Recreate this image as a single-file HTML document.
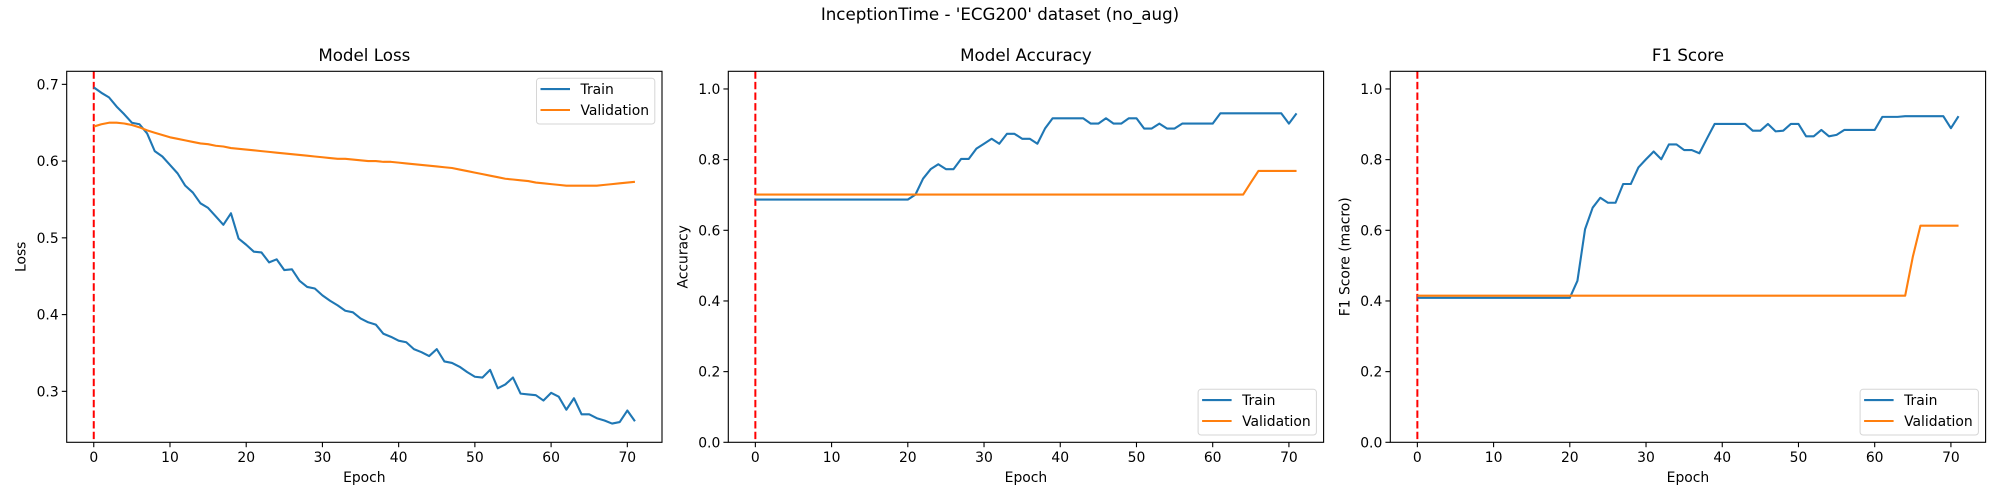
<!DOCTYPE html>
<html><head><meta charset="utf-8"><style>
html,body{margin:0;padding:0;background:#fff;}
svg{display:block;font-family:"DejaVu Sans","Liberation Sans",sans-serif;}
</style></head><body>
<svg id="fig" width="2000" height="500" viewBox="0 0 2000 500" xmlns="http://www.w3.org/2000/svg">
<text x="1000" y="20" text-anchor="middle" font-size="16.7" fill="#000">InceptionTime - 'ECG200' dataset (no_aug)</text>
</svg>
<script>
const epochs = Array.from({length:72},(_,i)=>i);
const lossTrain = [0.696,0.689,0.683,0.671,0.661,0.650,0.648,0.636,0.613,0.606,0.595,0.584,0.568,0.559,0.545,0.539,0.528,0.517,0.532,0.499,0.491,0.482,0.481,0.468,0.472,0.458,0.459,0.444,0.436,0.434,0.425,0.418,0.412,0.405,0.403,0.395,0.390,0.387,0.375,0.371,0.366,0.364,0.355,0.351,0.346,0.355,0.339,0.337,0.332,0.325,0.319,0.318,0.328,0.304,0.309,0.318,0.297,0.296,0.295,0.288,0.298,0.293,0.276,0.291,0.270,0.270,0.265,0.262,0.258,0.260,0.275,0.261];
const lossVal = [0.645,0.648,0.650,0.650,0.649,0.647,0.644,0.640,0.637,0.634,0.631,0.629,0.627,0.625,0.623,0.622,0.620,0.619,0.617,0.616,0.615,0.614,0.613,0.612,0.611,0.610,0.609,0.608,0.607,0.606,0.605,0.604,0.603,0.603,0.602,0.601,0.600,0.600,0.599,0.599,0.598,0.597,0.596,0.595,0.594,0.593,0.592,0.591,0.589,0.587,0.585,0.583,0.581,0.579,0.577,0.576,0.575,0.574,0.572,0.571,0.570,0.569,0.568,0.568,0.568,0.568,0.568,0.569,0.570,0.571,0.572,0.573];
const accTrain = [0.687,0.687,0.687,0.687,0.687,0.687,0.687,0.687,0.687,0.687,0.687,0.687,0.687,0.687,0.687,0.687,0.687,0.687,0.687,0.687,0.687,0.701,0.746,0.773,0.787,0.773,0.773,0.802,0.802,0.831,0.845,0.859,0.845,0.873,0.873,0.859,0.859,0.845,0.888,0.917,0.917,0.917,0.917,0.917,0.902,0.902,0.917,0.902,0.902,0.917,0.917,0.888,0.888,0.902,0.888,0.888,0.902,0.902,0.902,0.902,0.902,0.931,0.931,0.931,0.931,0.931,0.931,0.931,0.931,0.931,0.902,0.931];
const accVal = [0.701,0.701,0.701,0.701,0.701,0.701,0.701,0.701,0.701,0.701,0.701,0.701,0.701,0.701,0.701,0.701,0.701,0.701,0.701,0.701,0.701,0.701,0.701,0.701,0.701,0.701,0.701,0.701,0.701,0.701,0.701,0.701,0.701,0.701,0.701,0.701,0.701,0.701,0.701,0.701,0.701,0.701,0.701,0.701,0.701,0.701,0.701,0.701,0.701,0.701,0.701,0.701,0.701,0.701,0.701,0.701,0.701,0.701,0.701,0.701,0.701,0.701,0.701,0.701,0.701,0.735,0.768,0.768,0.768,0.768,0.768,0.768];
const f1Train = [0.409,0.409,0.409,0.409,0.409,0.409,0.409,0.409,0.409,0.409,0.409,0.409,0.409,0.409,0.409,0.409,0.409,0.409,0.409,0.409,0.409,0.457,0.603,0.664,0.692,0.678,0.678,0.731,0.731,0.778,0.801,0.823,0.801,0.843,0.843,0.827,0.827,0.818,0.860,0.901,0.901,0.901,0.901,0.901,0.882,0.882,0.901,0.880,0.882,0.901,0.901,0.866,0.866,0.884,0.866,0.870,0.884,0.884,0.884,0.884,0.884,0.921,0.921,0.921,0.923,0.923,0.923,0.923,0.923,0.923,0.889,0.923];
const f1Val = [0.415,0.415,0.415,0.415,0.415,0.415,0.415,0.415,0.415,0.415,0.415,0.415,0.415,0.415,0.415,0.415,0.415,0.415,0.415,0.415,0.415,0.415,0.415,0.415,0.415,0.415,0.415,0.415,0.415,0.415,0.415,0.415,0.415,0.415,0.415,0.415,0.415,0.415,0.415,0.415,0.415,0.415,0.415,0.415,0.415,0.415,0.415,0.415,0.415,0.415,0.415,0.415,0.415,0.415,0.415,0.415,0.415,0.415,0.415,0.415,0.415,0.415,0.415,0.415,0.415,0.525,0.613,0.613,0.613,0.613,0.613,0.613];
const xTicks = [0,10,20,30,40,50,60,70];
const lossTicks = ["0.3","0.4","0.5","0.6","0.7"];
const scoreTicks = ["0.0","0.2","0.4","0.6","0.8","1.0"];

const NS="http://www.w3.org/2000/svg";
const svg=document.getElementById('fig');
function mk(tag,attrs,parent){const e=document.createElementNS(NS,tag);for(const k in attrs)e.setAttribute(k,attrs[k]);(parent||svg).appendChild(e);return e;}

const panels=[
 {left:66.7,title:"Model Loss",ylabel:"Loss",ylim:[0.2336,0.717],ticks:lossTicks,train:lossTrain,val:lossVal,legend:"top",key:"loss"},
 {left:728.3,title:"Model Accuracy",ylabel:"Accuracy",ylim:[0,1.05],ticks:scoreTicks,train:accTrain,val:accVal,legend:"bottom",key:"accuracy"},
 {left:1390.3,title:"F1 Score",ylabel:"F1 Score (macro)",ylim:[0,1.05],ticks:scoreTicks,train:f1Train,val:f1Val,legend:"bottom",key:"f1"}
];
const TOP=71.3,BOT=442.3,W=595.3;
panels.forEach(p=>{
 const g=mk('g',{});
 
 
 const L=p.left,R=L+W;
 const xs=v=>L+(v+3.55)/78.1*W;
 const ys=v=>BOT-(v-p.ylim[0])/(p.ylim[1]-p.ylim[0])*(BOT-TOP);
 // ticks
 xTicks.forEach(t=>{
  const x=xs(t);
  const tk=mk('line',{x1:x,x2:x,y1:BOT,y2:BOT+4.9,stroke:'#000','stroke-width':1.1},g);
  
  
  const tl=mk('text',{x:x,y:BOT+19.5,'text-anchor':'middle','font-size':13.9},g);
  
  
  tl.textContent=t;
 });
 p.ticks.forEach(t=>{
  const y=ys(parseFloat(t));
  const tk=mk('line',{x1:L-4.9,x2:L,y1:y,y2:y,stroke:'#000','stroke-width':1.1},g);
  
  
  const tl=mk('text',{x:L-8,y:y+5,'text-anchor':'end','font-size':13.9},g);
  
  
  tl.textContent=t;
 });
 // red dashed line at epoch 0
 const rl=mk('line',{x1:xs(0),x2:xs(0),y1:TOP,y2:BOT,stroke:'#ff0000','stroke-width':2,'stroke-dasharray':'7.4,3.2'},g);
 
 
 // series
 [[p.train,'#1f77b4','train-line'],[p.val,'#ff7f0e','validation-line']].forEach(([arr,c,n])=>{
  const d=arr.map((v,i)=>(i?'L':'M')+xs(epochs[i]).toFixed(2)+','+ys(v).toFixed(2)).join('');
  const pa=mk('path',{d:d,fill:'none',stroke:c,'stroke-width':2.1,'stroke-linejoin':'round'},g);
  
  
 });
 const fr=mk('rect',{x:L,y:TOP,width:W,height:BOT-TOP,fill:'none',stroke:'#000','stroke-width':1.1},g);
 
 
 const ti=mk('text',{x:L+W/2,y:61,'text-anchor':'middle','font-size':16.7},g);
 
 
 ti.textContent=p.title;
 const xl=mk('text',{x:L+W/2,y:482,'text-anchor':'middle','font-size':13.9},g);
 
 
 xl.textContent='Epoch';
 const ylx=L-41;
 const yl=mk('text',{x:ylx,y:(TOP+BOT)/2,'text-anchor':'middle','font-size':13.9,transform:`rotate(-90 ${ylx} ${(TOP+BOT)/2})`},g);
 
 
 yl.textContent=p.ylabel;
 // legend
 const lw=118.3,lh=45.7,lx=R-7.2-lw;
 const ly=p.legend==='top'?TOP+7:BOT-7.3-lh;
 const lg=mk('g',{},g);
 
 
 mk('rect',{x:lx,y:ly,width:lw,height:lh,rx:3,fill:'#fff','fill-opacity':0.8,stroke:'#d6d6d6','stroke-width':1},lg);
 [['Train','#1f77b4'],['Validation','#ff7f0e']].forEach(([t,c],i)=>{
  const yy=ly+10.8+i*20.9;
  const ln=mk('line',{x1:lx+4,x2:lx+33.5,y1:yy,y2:yy,stroke:c,'stroke-width':2.1},lg);
  
  
  const tx=mk('text',{x:lx+44,y:yy+5,'font-size':13.9},lg);
  
  
  tx.textContent=t;
 });
});
</script>
</body></html>
